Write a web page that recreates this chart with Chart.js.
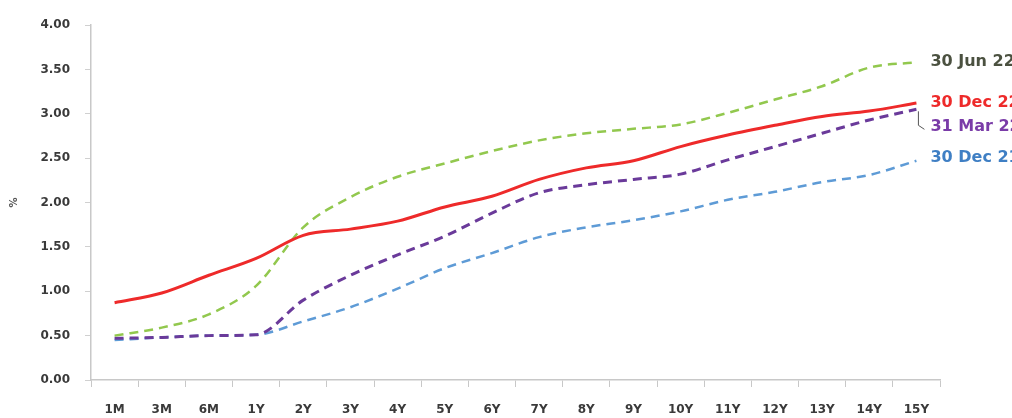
<!DOCTYPE html>
<html>
<head>
<meta charset="utf-8">
<script src="https://cdn.jsdelivr.net/npm/chart.js@4/dist/chart.umd.min.js"></script>
<style>
  html, body { margin: 0; padding: 0; background: #fff; }
  #wrap { width: 1012px; height: 418px; position: relative; }
</style>
</head>
<body>
<div id="wrap"><canvas id="curve"></canvas></div>
<script>
const tenors = ['1M','3M','6M','1Y','2Y','3Y','4Y','5Y','6Y','7Y','8Y','9Y','10Y','11Y','12Y','13Y','14Y','15Y'];
const yTicks = [0, 0.5, 1, 1.5, 2, 2.5, 3, 3.5, 4];

const dec22 = [0.87, 0.98, 1.18, 1.37, 1.63, 1.70, 1.79, 1.95, 2.07, 2.26, 2.39, 2.47, 2.63, 2.76, 2.87, 2.97, 3.03, 3.12];
const jun22 = [0.50, 0.59, 0.74, 1.06, 1.72, 2.06, 2.29, 2.44, 2.58, 2.70, 2.78, 2.83, 2.88, 3.01, 3.16, 3.31, 3.52, 3.58];
const mar22 = [0.47, 0.48, 0.50, 0.51, 0.90, 1.18, 1.41, 1.62, 1.88, 2.11, 2.20, 2.26, 2.32, 2.48, 2.63, 2.78, 2.93, 3.05];
const dec21 = [0.45, 0.48, 0.50, 0.51, 0.66, 0.82, 1.03, 1.26, 1.43, 1.61, 1.72, 1.80, 1.90, 2.03, 2.12, 2.23, 2.31, 2.47];

const seriesNames = ['30 Dec 22', '30 Jun 22', '31 Mar 22', '30 Dec 21'];

// end-of-line labels, drawn next to the last point of each series
const endLabels = {
  id: 'endLabels',
  afterDatasetsDraw(chart) {
    const ctx = chart.ctx;
    const cfg = [
      { color: '#ee2a2a', dy: 0 },
      { color: '#4b5140', dy: 0 },
      { color: '#7a3ca8', dy: 18, leader: true },
      { color: '#3f7fc4', dy: -3 }
    ];
    ctx.save();
    ctx.font = 'bold 16px "DejaVu Sans", sans-serif';
    ctx.textBaseline = 'middle';
    chart.data.datasets.forEach((ds, i) => {
      const meta = chart.getDatasetMeta(i);
      const pt = meta.data[meta.data.length - 1];
      const c = cfg[i];
      const x = pt.x + 14;
      const y = pt.y + c.dy;
      if (c.leader) {
        ctx.strokeStyle = '#555';
        ctx.lineWidth = 1;
        ctx.beginPath();
        ctx.moveTo(pt.x + 2, pt.y + 2);
        ctx.lineTo(pt.x + 2, y - 2);
        ctx.lineTo(pt.x + 8, y + 2);
        ctx.stroke();
      }
      ctx.fillStyle = c.color;
      ctx.fillText(ds.label, x, y);
    });
    ctx.restore();
  }
};

const font = { family: '"DejaVu Sans", sans-serif', size: 12, weight: 'bold' };

new Chart(document.getElementById('curve'), {
  type: 'line',
  data: {
    labels: tenors,
    datasets: [
      { label: seriesNames[0], data: dec22, borderColor: '#ee2a2a', borderWidth: 3 },
      { label: seriesNames[1], data: jun22, borderColor: '#92c84e', borderWidth: 2.5, borderDash: [9, 6] },
      { label: seriesNames[2], data: mar22, borderColor: '#6a3a9a', borderWidth: 3, borderDash: [9, 6] },
      { label: seriesNames[3], data: dec21, borderColor: '#5e9bd6', borderWidth: 2.5, borderDash: [9, 6] }
    ].map(d => Object.assign(d, { pointRadius: 0, cubicInterpolationMode: 'monotone', fill: false }))
  },
  options: {
    responsive: true,
    maintainAspectRatio: false,
    animation: false,
    layout: { padding: { left: 8, right: 72, top: 25, bottom: 0 } },
    plugins: { legend: { display: false }, tooltip: { enabled: false } },
    scales: {
      x: {
        offset: true,
        grid: { display: true, offset: true, drawOnChartArea: false, tickLength: 7, color: '#c8c8c8' },
        border: { color: '#c8c8c8', width: 1.5 },
        ticks: { font, color: '#3a3a3a', padding: 16, maxRotation: 0, autoSkip: false },
        afterFit: s => { s.height = 38; }
      },
      y: {
        min: 0,
        max: 4,
        afterBuildTicks: s => { s.ticks = yTicks.map(v => ({ value: v })); },
        grid: { display: true, drawOnChartArea: false, tickLength: 6, color: '#d0d0d0' },
        border: { color: '#c8c8c8', width: 1.5 },
        ticks: { font, color: '#3a3a3a', padding: 15, callback: v => v.toFixed(2) },
        title: { display: true, text: '%', font: { family: font.family, size: 10, weight: 'bold' }, color: '#555', padding: 0 },
        afterFit: s => { s.width = 83; }
      }
    }
  },
  plugins: [endLabels]
});
</script>
</body>
</html>
